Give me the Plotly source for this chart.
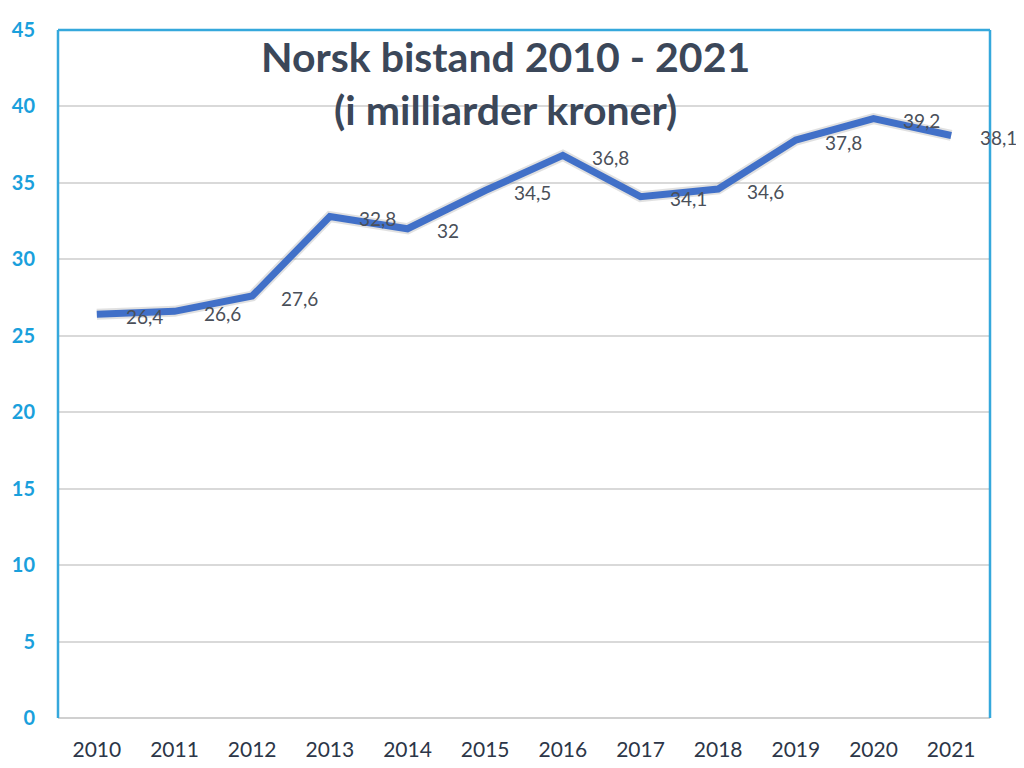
import plotly.graph_objects as go

years = ["2010", "2011", "2012", "2013", "2014", "2015", "2016", "2017", "2018", "2019", "2020", "2021"]
values = [26.4, 26.6, 27.6, 32.8, 32.0, 34.5, 36.8, 34.1, 34.6, 37.8, 39.2, 38.1]
labels = ["26,4", "26,6", "27,6", "32,8", "32", "34,5", "36,8", "34,1", "34,6", "37,8", "39,2", "38,1"]
y_ticks = [0, 5, 10, 15, 20, 25, 30, 35, 40, 45]

BORDER = "#35a8dc"
FONT = "Lato"

fig = go.Figure()
# soft shadow under line
fig.add_trace(go.Scatter(
    x=years, y=values, mode="lines",
    line=dict(color="rgba(120,120,120,0.22)", width=11),
    hoverinfo="skip", showlegend=False,
))
fig.add_trace(go.Scatter(
    x=years, y=values, mode="lines",
    line=dict(color="#4170c8", width=7),
    showlegend=False,
))

for i, (v, lab) in enumerate(zip(values, labels)):
    fig.add_annotation(
        x=i, y=v, xref="x", yref="y", text=lab, showarrow=False,
        xanchor="left", yanchor="middle", xshift=27, yshift=-2,
        font=dict(family=FONT, size=19, color="#4a4f59"),
    )

fig.add_annotation(
    x=0.48, y=1.0, xref="paper", yref="paper",
    text="<b>Norsk bistand 2010 - 2021</b><br><b>(i milliarder kroner)</b>",
    showarrow=False, xanchor="center", yanchor="top",
    font=dict(family=FONT, size=41, color="#3b4759"),
    align="center",
)

# blue frame: left, top, right
for x0, y0, x1, y1 in [(0, 0, 0, 1), (0, 1, 1, 1), (1, 0, 1, 1)]:
    fig.add_shape(type="line", xref="paper", yref="paper",
                  x0=x0, y0=y0, x1=x1, y1=y1,
                  line=dict(color=BORDER, width=2.5))

# page body has an 8px margin, so the figure is sized to fit the window
fig.update_layout(
    width=1016, height=752,
    margin=dict(l=50, r=34, t=22, b=42, autoexpand=False),
    plot_bgcolor="white", paper_bgcolor="white",
    xaxis=dict(
        type="category", range=[-0.5, 11.5], automargin=False,
        showgrid=False, showline=False, ticks="",
        tickfont=dict(family=FONT, size=21, color="#2c3648"),
        ticklabelstandoff=17,
    ),
    yaxis=dict(
        range=[0, 45], tickvals=y_ticks, automargin=False,
        showgrid=True, gridcolor="#d9d9d9", gridwidth=1.5,
        zeroline=True, zerolinecolor="#d0d0d0", zerolinewidth=2,
        showline=False, ticks="",
        tickfont=dict(family=FONT, size=20, color="#1aa0dc", weight="bold"),
        ticklabelstandoff=22,
    ),
)

fig.write_html("out.html")
